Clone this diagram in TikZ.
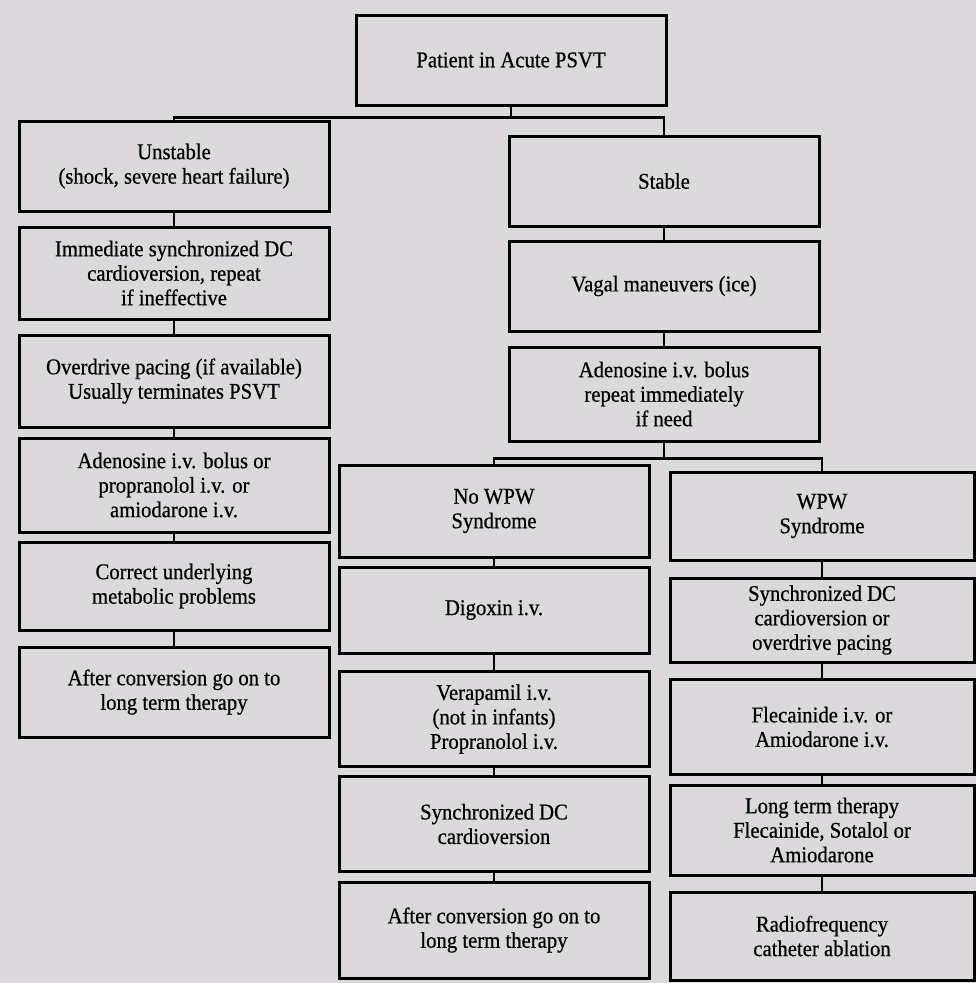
\documentclass[tikz,border=0pt]{standalone}
\usepackage{fontspec}
\setmainfont{Liberation Serif}[FakeStretch=0.92,FakeBold=0.6]
\definecolor{paper}{RGB}{219,217,220}

\begin{document}
\begin{tikzpicture}[x=1pt,y=-1pt,
    caja/.style={draw,line width=3pt,minimum width=310pt,inner sep=0pt,
      align=center,font=\fontsize{22.5}{24.5}\selectfont},
    linea/.style={line width=2.4pt}]
    % fondo de papel escaneado
    \fill[paper] (0,0) rectangle (976,983);
    \useasboundingbox (0,0) rectangle (976,983);
    % raiz
    \node[caja,minimum height=90pt] (patient) at (511,60) {Patient in Acute PSVT};
    % rama inestable, columna izquierda
    \node[caja,minimum height=90pt] (unstable) at (174,166) {Unstable\\(shock, severe heart failure)};
    \node[caja,minimum height=92pt] (immediate) at (174,273) {Immediate synchronized DC\\cardioversion, repeat\\if ineffective};
    \node[caja,minimum height=92pt] (overdrive) at (174,381) {Overdrive pacing (if available)\\Usually terminates PSVT};
    \node[caja,minimum height=94pt] (adenoL) at (174,485) {Adenosine i.v. bolus or\\propranolol i.v. or\\amiodarone i.v.};
    \node[caja,minimum height=88pt] (correct) at (174,586) {Correct underlying\\metabolic problems};
    \node[caja,minimum height=90pt] (afterL) at (174,692) {After conversion go on to\\long term therapy};
    % rama estable
    \node[caja,minimum height=90pt] (stable) at (664,181) {Stable};
    \node[caja,minimum height=90pt] (vagal) at (664,286) {Vagal maneuvers (ice)};
    \node[caja,minimum height=94pt] (adenoR) at (664,394) {Adenosine i.v. bolus\\repeat immediately\\if need};
    % sin WPW, columna central
    \node[caja,minimum height=92pt] (nowpw) at (494,511) {No WPW\\Syndrome};
    \node[caja,minimum height=86pt] (digoxin) at (494,610) {Digoxin i.v.};
    \node[caja,minimum height=95pt] (verapamil) at (494,719) {Verapamil i.v.\\(not in infants)\\Propranolol i.v.};
    \node[caja,minimum height=95pt] (syncM) at (494,824) {Synchronized DC\\cardioversion};
    \node[caja,minimum height=96pt] (afterM) at (494,930) {After conversion go on to\\long term therapy};
    % WPW, columna derecha
    \node[caja,minimum width=304pt,minimum height=88pt] (wpw) at (822,516) {WPW\\Syndrome};
    \node[caja,minimum width=304pt,minimum height=84pt] (syncR) at (822,620) {Synchronized DC\\cardioversion or\\overdrive pacing};
    \node[caja,minimum width=304pt,minimum height=95pt] (flec) at (822,727) {Flecainide i.v. or\\Amiodarone i.v.};
    \node[caja,minimum width=304pt,minimum height=90pt] (longterm) at (822,830) {Long term therapy\\Flecainide, Sotalol or\\Amiodarone};
    \node[caja,minimum width=304pt,minimum height=88pt] (radio) at (822,936) {Radiofrequency\\catheter ablation};
    % bifurcaciones
    \coordinate (split1) at ([yshift=-11pt]patient.south);
    \draw[linea] (patient.south) -- (split1);
    \draw[linea] (split1) -| (unstable.north);
    \draw[linea] (split1) -| (stable.north);
    \coordinate (split2) at ([yshift=-16pt]adenoR.south);
    \draw[linea] (adenoR.south) -- (split2);
    \draw[linea] (split2) -| (nowpw.north);
    \draw[linea] (split2) -| (wpw.north);
    % uniones verticales
    \draw[linea] (unstable) -- (immediate);
    \draw[linea] (immediate) -- (overdrive);
    \draw[linea] (overdrive) -- (adenoL);
    \draw[linea] (adenoL) -- (correct);
    \draw[linea] (correct) -- (afterL);
    \draw[linea] (stable) -- (vagal);
    \draw[linea] (vagal) -- (adenoR);
    \draw[linea] (nowpw) -- (digoxin);
    \draw[linea] (digoxin) -- (verapamil);
    \draw[linea] (verapamil) -- (syncM);
    \draw[linea] (syncM) -- (afterM);
    \draw[linea] (wpw) -- (syncR);
    \draw[linea] (syncR) -- (flec);
    \draw[linea] (flec) -- (longterm);
    \draw[linea] (longterm) -- (radio);
\end{tikzpicture}
\end{document}
